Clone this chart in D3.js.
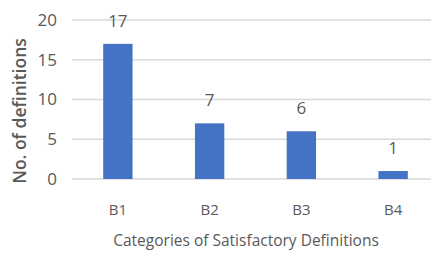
<!DOCTYPE html>
<meta charset="utf-8">
<style>
body { margin: 0; background: #fff; }
text { font-family: "Open Sans", sans-serif; fill: #595959; }
</style>
<svg width="431" height="254"></svg>
<script src="https://d3js.org/d3.v7.min.js"></script>
<script>

// data
var categories = ["B1", "B2", "B3", "B4"];
var counts = [17, 7, 6, 1];
var yTicks = [0, 5, 10, 15, 20];

var svg = d3.select("svg");

// scales
var x = d3.scaleBand()
    .domain(categories)
    .range([72, 439])
    .paddingInner(0.68)
    .paddingOuter(0.34);

var y = d3.scaleLinear()
    .domain([0, 20])
    .range([179, 20]);

// gridlines
svg.append("g")
  .selectAll("line")
  .data(yTicks)
  .enter().append("line")
    .attr("x1", 72)
    .attr("x2", 431)
    .attr("y1", function(d) { return y(d); })
    .attr("y2", function(d) { return y(d); })
    .attr("stroke", "#d9d9d9")
    .attr("stroke-width", 1.6);

// y tick labels
svg.append("g")
  .selectAll("text")
  .data(yTicks)
  .enter().append("text")
    .attr("x", 57)
    .attr("y", function(d) { return y(d); })
    .attr("dy", "0.35em")
    .attr("text-anchor", "end")
    .attr("font-size", 17)
    .text(function(d) { return d; });

// bars
svg.append("g")
  .selectAll("rect")
  .data(counts)
  .enter().append("rect")
    .attr("x", function(d, i) { return x(categories[i]); })
    .attr("y", function(d) { return y(d); })
    .attr("width", x.bandwidth())
    .attr("height", function(d) { return y(0) - y(d); })
    .attr("fill", "#4472c4");

// value labels
svg.append("g")
  .selectAll("text")
  .data(counts)
  .enter().append("text")
    .attr("x", function(d, i) { return x(categories[i]) + x.bandwidth() / 2; })
    .attr("y", function(d) { return y(d) - 17; })
    .attr("text-anchor", "middle")
    .attr("font-size", 17)
    .text(function(d) { return d; });

// category labels
svg.append("g")
  .selectAll("text")
  .data(categories)
  .enter().append("text")
    .attr("x", function(d) { return x(d) + x.bandwidth() / 2; })
    .attr("y", 210)
    .attr("dy", "0.35em")
    .attr("text-anchor", "middle")
    .attr("font-size", 15)
    .text(function(d) { return d; });

// axis titles
svg.append("text")
    .attr("x", 246)
    .attr("y", 241)
    .attr("dy", "0.35em")
    .attr("text-anchor", "middle")
    .attr("font-size", 15.5)
    .text("Categories of Satisfactory Definitions");

svg.append("text")
    .attr("transform", "translate(20,111) rotate(-90)")
    .attr("dy", "0.35em")
    .attr("text-anchor", "middle")
    .attr("font-size", 17.5)
    .attr("font-weight", 600)
    .text("No. of definitions");

</script>
